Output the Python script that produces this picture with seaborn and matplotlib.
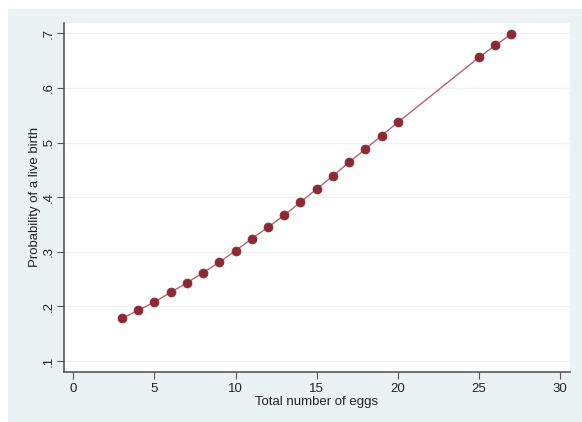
import matplotlib
matplotlib.use("Agg")
import matplotlib.pyplot as plt
import pandas as pd
import seaborn as sns
from matplotlib.patches import Rectangle

# values
eggs = [3, 4, 5, 6, 7, 8, 9, 10, 11, 12, 13, 14, 15, 16, 17, 18, 19, 20, 25, 26, 27]
prob_live_birth = [0.178, 0.193, 0.208, 0.226, 0.243, 0.262, 0.281, 0.302, 0.324,
                   0.345, 0.367, 0.391, 0.415, 0.439, 0.464, 0.488, 0.513, 0.537,
                   0.656, 0.678, 0.699]
x_ticks = [0, 5, 10, 15, 20, 25, 30]
y_ticks = [0.1, 0.2, 0.3, 0.4, 0.5, 0.6, 0.7]
y_tick_labels = [".1", ".2", ".3", ".4", ".5", ".6", ".7"]

BG = "#eaf2f3"
MARKER = "#8c2a34"
LINE = "#b8646e"

sns.set_theme(style="white")
plt.rcParams["font.family"] = ["Liberation Sans", "DejaVu Sans"]

df = pd.DataFrame({"eggs": eggs, "prob": prob_live_birth})

fig = plt.figure(figsize=(5.82, 4.22), dpi=100)
fig.patch.set_facecolor("white")
fig.patches.append(Rectangle((8 / 582, 0), 1 - 8 / 582, 1 - 9 / 422,
                             transform=fig.transFigure, facecolor=BG,
                             edgecolor="none", zorder=-10))

ax = fig.add_axes([0.110, 0.119, 0.869, 0.827])
ax.set_facecolor("white")

for yt in y_ticks:
    ax.axhline(yt, color="#f0f3f5", lw=1.0, zorder=0)

sns.lineplot(data=df, x="eggs", y="prob", ax=ax, color=LINE, lw=1.0,
             sort=False, zorder=2)
sns.scatterplot(data=df, x="eggs", y="prob", ax=ax, color=MARKER, s=42,
                edgecolor=MARKER, linewidth=0.5, zorder=3)

ax.set_xlim(-0.57, 30.6)
ax.set_ylim(0.0804, 0.7194)
ax.set_xticks(x_ticks)
ax.set_yticks(y_ticks)
ax.set_yticklabels(y_tick_labels, rotation=90, va="center")

ax.set_xlabel("Total number of eggs", fontsize=9.5, color="#222222", labelpad=1)
ax.set_ylabel("Probability of a live birth", fontsize=9.5, color="#222222", labelpad=1)

ax.tick_params(axis="x", which="major", direction="out", length=5, width=0.8,
               color="#555555", labelsize=9.5, labelcolor="#222222", pad=3,
               bottom=True)
ax.tick_params(axis="y", which="major", direction="out", length=5, width=0.8,
               color="#555555", labelsize=9.5, labelcolor="#222222", pad=2,
               left=True)

for side in ["top", "right"]:
    ax.spines[side].set_visible(False)
for side in ["left", "bottom"]:
    ax.spines[side].set_color("#4a4a4a")
    ax.spines[side].set_linewidth(1.1)

fig.savefig("out.png", dpi=100)
